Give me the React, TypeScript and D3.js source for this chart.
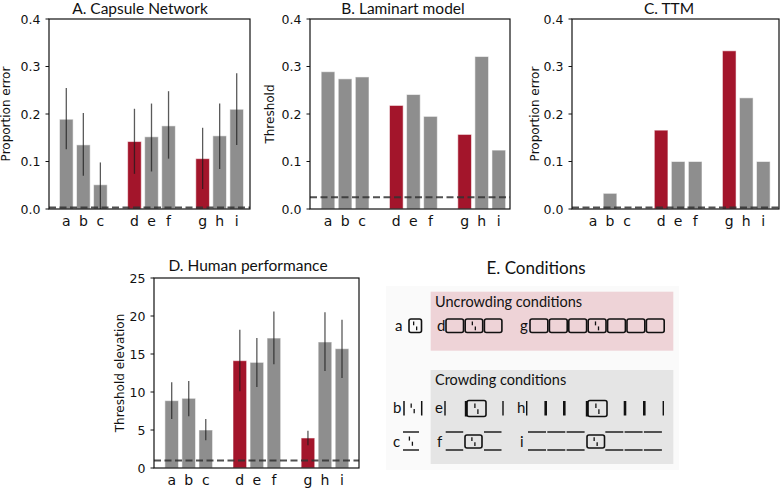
import React from 'react';
import * as d3 from 'd3';

// ---------- data ----------
const categories = ['a', 'b', 'c', 'd', 'e', 'f', 'g', 'h', 'i'];
const slots = [0, 1, 2, 4, 5, 6, 8, 9, 10];
const highlighted = ['d', 'g'];

const capsuleMean = [0.189, 0.135, 0.051, 0.142, 0.152, 0.175, 0.106, 0.154, 0.21];
const capsuleLow = [0.126, 0.07, 0.0, 0.074, 0.079, 0.106, 0.042, 0.084, 0.135];
const capsuleHigh = [0.255, 0.202, 0.098, 0.211, 0.222, 0.248, 0.171, 0.222, 0.286];

const laminartThreshold = [0.289, 0.274, 0.278, 0.218, 0.241, 0.195, 0.157, 0.321, 0.124];
const ttmError = [0, 0.033, 0, 0.166, 0.1, 0.1, 0.333, 0.234, 0.1];

const humanMean = [8.86, 9.17, 5.0, 14.12, 13.9, 17.1, 3.95, 16.58, 15.7];
const humanLow = [6.45, 6.8, 3.64, 10.09, 10.66, 13.64, 2.98, 12.76, 11.84];
const humanHigh = [11.27, 11.45, 6.45, 18.2, 17.1, 20.6, 4.9, 20.48, 19.5];

const proportionTicks = [0, 0.1, 0.2, 0.3, 0.4];
const humanTicks = [0, 5, 10, 15, 20, 25];
const refLevels = [0.003, 0.025, 0.003, 1];

const GRAY = '#8e8e8e';
const RED = '#a3152b';
const TICK_FONT = 'DejaVu Sans, sans-serif';
const TITLE_FONT = 'Lato, sans-serif';

type Spec = {
  title: string; titleX: number; titleY: number;
  ylabel: string; ylabelX: number;
  left: number; right: number; top: number; bottom: number;
  firstCenter: number; lastCenter: number;
  yMax: number; ticks: number[]; fmt: (v: number) => string;
  values: number[]; low?: number[]; high?: number[]; ref: number;
};

function Panel({ s }: { s: Spec }) {
  const x = d3.scaleLinear().domain([slots[0], slots[slots.length - 1]]).range([s.firstCenter, s.lastCenter]);
  const y = d3.scaleLinear().domain([0, s.yMax]).range([s.bottom, s.top]);
  const bw = (x(1) - x(0)) * 0.8;
  return (
    <g>
      {categories.map((c, i) => {
        const v = s.values[i];
        if (v <= 0) return null;
        return (
          <rect key={'b' + c} x={x(slots[i]) - bw / 2} y={y(v)} width={bw} height={y(0) - y(v)}
            fill={highlighted.includes(c) ? RED : GRAY} stroke="rgba(255,255,255,0.55)" strokeWidth={1} />
        );
      })}
      {s.low && s.high && categories.map((c, i) => (
        <line key={'e' + c} x1={x(slots[i])} x2={x(slots[i])} y1={y(Math.max(0, s.low![i]))} y2={y(s.high![i])}
          stroke="#1a1a1a" strokeOpacity={0.72} strokeWidth={1.3} />
      ))}
      <line x1={s.left} x2={s.right} y1={y(s.ref)} y2={y(s.ref)} stroke="#333" strokeOpacity={0.85}
        strokeWidth={2} strokeDasharray="7,3.5" />
      <rect x={s.left} y={s.top} width={s.right - s.left} height={s.bottom - s.top} fill="none" stroke="#111" strokeWidth={1.2} />
      {s.ticks.map(t => (
        <g key={'t' + t}>
          <line x1={s.left - 3.5} x2={s.left} y1={y(t)} y2={y(t)} stroke="#111" strokeWidth={1} />
          <text x={s.left - 8.5} y={y(t)} dy="0.36em" textAnchor="end" fontFamily={TICK_FONT} fontSize={12.5} fill="#111">{s.fmt(t)}</text>
        </g>
      ))}
      {categories.map((c, i) => (
        <text key={'l' + c} x={x(slots[i])} y={s.bottom + 17} textAnchor="middle" fontFamily={TICK_FONT} fontSize={14} fill="#111">{c}</text>
      ))}
      <text transform={`translate(${s.ylabelX},${(s.top + s.bottom) / 2}) rotate(-90)`} textAnchor="middle" dy="0.35em"
        fontFamily={TICK_FONT} fontSize={12} fill="#111">{s.ylabel}</text>
      <text x={s.titleX} y={s.titleY} textAnchor="middle" fontFamily={TITLE_FONT} fontSize={15.5} fill="#111">{s.title}</text>
    </g>
  );
}

const f1 = (v: number) => d3.format('.1f')(v);
const f0 = (v: number) => d3.format('d')(v);

const panels: Spec[] = [
  { title: 'A. Capsule Network', titleX: 140, titleY: 14, ylabel: 'Proportion error', ylabelX: 6,
    left: 49, right: 250, top: 19, bottom: 209, firstCenter: 66.3, lastCenter: 236.7,
    yMax: 0.4, ticks: proportionTicks, fmt: f1, values: capsuleMean, low: capsuleLow, high: capsuleHigh, ref: refLevels[0] },
  { title: 'B. Laminart model', titleX: 403, titleY: 14, ylabel: 'Threshold', ylabelX: 270,
    left: 310, right: 510, top: 19, bottom: 209, firstCenter: 328, lastCenter: 498.8,
    yMax: 0.4, ticks: proportionTicks, fmt: f1, values: laminartThreshold, ref: refLevels[1] },
  { title: 'C. TTM', titleX: 669, titleY: 14, ylabel: 'Proportion error', ylabelX: 535,
    left: 572, right: 779, top: 19, bottom: 209, firstCenter: 593, lastCenter: 763.3,
    yMax: 0.4, ticks: proportionTicks, fmt: f1, values: ttmError, ref: refLevels[2] },
  { title: 'D. Human performance', titleX: 248, titleY: 271, ylabel: 'Threshold elevation', ylabelX: 120,
    left: 154, right: 359, top: 278, bottom: 468, firstCenter: 171.7, lastCenter: 342,
    yMax: 25, ticks: humanTicks, fmt: f0, values: humanMean, low: humanLow, high: humanHigh, ref: refLevels[3] },
];

// ---------- conditions diagram ----------
const INK = '#111';

function Vernier({ cx, y, h }: { cx: number; y: number; h: number }) {
  return (
    <g stroke={INK} strokeWidth={1.3}>
      <line x1={cx - 1.6} x2={cx - 1.6} y1={y + h * 0.18} y2={y + h * 0.47} />
      <line x1={cx + 1.4} x2={cx + 1.4} y1={y + h * 0.55} y2={y + h * 0.84} />
    </g>
  );
}

function Box({ x, y, w, h, target }: { x: number; y: number; w: number; h: number; target?: boolean }) {
  return (
    <g>
      <rect x={x} y={y} width={w} height={h} rx={2} fill="none" stroke={INK} strokeWidth={1.6} />
      {target && <Vernier cx={x + w / 2} y={y} h={h} />}
    </g>
  );
}

const uncrowdGroups = [
  { label: 'a', lx: 395, x0: 409, step: 0, w: 12.5, n: 1, target: 0 },
  { label: 'd', lx: 437, x0: 446, step: 19.2, w: 17.5, n: 3, target: 1 },
  { label: 'g', lx: 520, x0: 530, step: 19.4, w: 17.8, n: 7, target: 3 },
];
const lineRowB = [404, 421.7];
const lineRowE = [445, 503];
const lineRowH = [526.7, 545.7, 564.3, 625, 644.3, 663.3];
const lineRowHWidth = [1.4, 2.6, 2.6, 2.6, 2.6, 1.4];
const segRowF = [445.7, 484];
const segRowI = [528, 547.3, 566.6, 605.3, 624.6, 643.9];

function Conditions() {
  const rowUy = 319, rowUh = 13.5;
  const row1y = 401, row1h = 14.5;
  const row2top = 432, row2bot = 450;
  const lab = { fontFamily: TITLE_FONT, fontSize: 15, fill: INK } as const;
  return (
    <g>
      <rect x={386} y={286} width={293} height={184} fill="#fafafa" />
      <text x={536} y={274} textAnchor="middle" fontFamily={TITLE_FONT} fontSize={17} fill={INK}>E. Conditions</text>
      <rect x={430.7} y={291.7} width={242.6} height={59} fill="#eed3d7" />
      <rect x={430.7} y={370} width={242.6} height={94} fill="#e5e5e5" />
      <text x={435} y={307} {...lab} fontSize={14.5}>Uncrowding conditions</text>
      <text x={435} y={385} {...lab} fontSize={14.5}>Crowding conditions</text>

      {uncrowdGroups.map(g => (
        <g key={g.label}>
          <text x={g.lx} y={rowUy + 12} {...lab}>{g.label}</text>
          {d3.range(g.n).map(k => (
            <Box key={k} x={g.x0 + k * g.step} y={rowUy} w={g.w} h={rowUh} target={k === g.target} />
          ))}
        </g>
      ))}

      {/* row b / e / h */}
      <text x={393} y={row1y + 12} {...lab}>b</text>
      {lineRowB.map(lx => <line key={'b' + lx} x1={lx} x2={lx} y1={row1y} y2={row1y + row1h} stroke={INK} strokeWidth={1.5} />)}
      <Vernier cx={412.8} y={row1y} h={row1h} />
      <text x={435} y={row1y + 12} {...lab}>e</text>
      {lineRowE.map(lx => <line key={'e' + lx} x1={lx} x2={lx} y1={row1y} y2={row1y + row1h} stroke={INK} strokeWidth={1.4} />)}
      <line x1={466} x2={466} y1={row1y} y2={row1y + row1h + 1} stroke={INK} strokeWidth={2.4} />
      <Box x={467} y={row1y - 0.5} w={19} h={row1h + 1.5} target />
      <text x={517} y={row1y + 12} {...lab}>h</text>
      {lineRowH.map((lx, k) => <line key={'h' + lx} x1={lx} x2={lx} y1={row1y} y2={row1y + row1h} stroke={INK} strokeWidth={lineRowHWidth[k]} />)}
      <line x1={587} x2={587} y1={row1y} y2={row1y + row1h + 1} stroke={INK} strokeWidth={2.4} />
      <Box x={588} y={row1y - 0.5} w={19} h={row1h + 1.5} target />

      {/* row c / f / i */}
      <text x={393} y={row2top + 15} {...lab}>c</text>
      {[row2top, row2bot].map(yy => <line key={'c' + yy} x1={403} x2={419} y1={yy} y2={yy} stroke={INK} strokeWidth={1.4} />)}
      <Vernier cx={411} y={row2top + 2} h={row2bot - row2top - 4} />
      <text x={437} y={row2top + 15} {...lab}>f</text>
      {segRowF.map(sx => [row2top, row2bot].map(yy => (
        <line key={'f' + sx + yy} x1={sx} x2={sx + 17.5} y1={yy} y2={yy} stroke={INK} strokeWidth={1.4} />
      )))}
      <Box x={465} y={row2top + 3} w={17} h={13} target />
      <text x={520} y={row2top + 15} {...lab}>i</text>
      {segRowI.map(sx => [row2top, row2bot].map(yy => (
        <line key={'i' + sx + yy} x1={sx} x2={sx + 18} y1={yy} y2={yy} stroke={INK} strokeWidth={1.4} />
      )))}
      <Box x={587} y={row2top + 3} w={17.5} h={13} target />
    </g>
  );
}

export default function App() {
  return (
    <svg width={782} height={489} viewBox="0 0 782 489" style={{ display: 'block', position: 'absolute', left: 0, top: 0, background: '#fff' }}>
      <rect width={782} height={489} fill="#fff" />
      {panels.map(p => <Panel key={p.title} s={p} />)}
      <Conditions />
    </svg>
  );
}
